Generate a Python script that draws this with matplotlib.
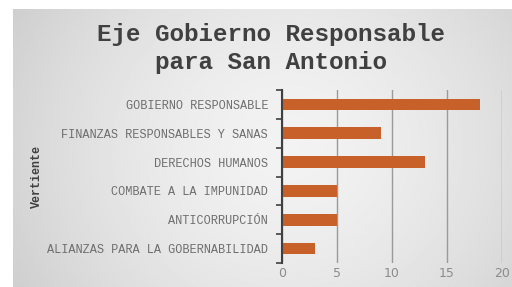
import numpy as np
import matplotlib
matplotlib.use("Agg")
import matplotlib.pyplot as plt

# Data (top to bottom)
categories = [
    "GOBIERNO RESPONSABLE",
    "FINANZAS RESPONSABLES Y SANAS",
    "DERECHOS HUMANOS",
    "COMBATE A LA IMPUNIDAD",
    "ANTICORRUPCIÓN",
    "ALIANZAS PARA LA GOBERNABILIDAD",
]
values = [18, 9, 13, 5, 5, 3]
x_ticks = [0, 5, 10, 15, 20]

W, H = 512, 287
fig = plt.figure(figsize=(W / 100, H / 100), dpi=100)
fig.patch.set_facecolor("white")

# Grey radial gradient background, leaving a white strip top and left
bg = fig.add_axes([13 / W, 0, 1 - 13 / W, 1 - 9 / H])
gy, gx = np.mgrid[0:1:200j, 0:1:300j]
r = np.sqrt(((gx - 0.55) / 0.6) ** 2 + ((gy - 0.5) / 1.0) ** 2)
grad = np.clip(0.95 - 0.13 * r ** 1.6, 0, 1)
bg.imshow(grad, cmap="gray", vmin=0, vmax=1, aspect="auto", extent=[0, 1, 0, 1])
bg.axis("off")

fig.text(0.53, 1 - 34 / H, "Eje Gobierno Responsable", ha="center", va="center",
         family="Liberation Mono", weight="bold", fontsize=17.5, color="#404040")
fig.text(0.53, 1 - 62 / H, "para San Antonio", ha="center", va="center",
         family="Liberation Mono", weight="bold", fontsize=17.5, color="#404040")

ax = fig.add_axes([282 / W, 1 - 263 / H, 220 / W, 173 / H])
ax.patch.set_alpha(0)
y = np.arange(len(categories))
ax.barh(y, values, height=0.4, color="#c8602a", zorder=3)
ax.set_ylim(len(categories) - 0.5, -0.5)
ax.set_xlim(0, 20)

ax.set_yticks(y)
ax.set_yticklabels(categories, family="Liberation Mono", fontsize=8.6, color="#6e6e6e")
ax.tick_params(axis="y", which="major", length=0, pad=10)
ax.set_yticks(np.arange(len(categories) + 1) - 0.5, minor=True)
ax.tick_params(axis="y", which="minor", length=4, width=1.2, color="#404040", direction="out")

ax.set_xticks(x_ticks)
ax.set_xticklabels([str(v) for v in x_ticks], fontsize=9, color="#8c8c8c")
ax.tick_params(axis="x", length=0, pad=3)
ax.grid(axis="x", color="#9a9a9a", linewidth=1, zorder=0)

for s in ["top", "right", "bottom"]:
    ax.spines[s].set_visible(False)
ax.spines["left"].set_color("#404040")
ax.spines["left"].set_linewidth(1.5)
ax.spines["left"].set_zorder(4)

fig.text(37 / W, 1 - 176 / H, "Vertiente", rotation=90, ha="center", va="center",
         family="Liberation Mono", weight="bold", fontsize=8.5, color="#404040")

fig.savefig("out.png", dpi=100)
